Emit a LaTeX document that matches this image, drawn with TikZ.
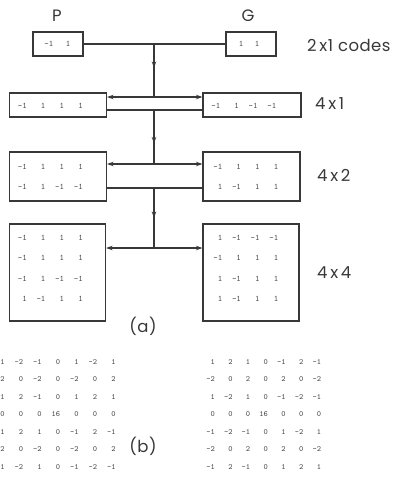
\documentclass[tikz,border=0pt]{standalone}
\usepackage{fontspec}
\setmainfont{Poppins}
\usetikzlibrary{arrows.meta,decorations.markings,calc}

\definecolor{ink}{HTML}{383838}
\definecolor{numink}{HTML}{484848}

\tikzset{
  codebox/.style={draw=ink, line width=1.1pt, inner sep=0pt},
  num/.style={anchor=east, inner sep=0pt, font=\ttfamily\fontsize{8.5}{8.5}\selectfont, text=numink},
  bnum/.style={anchor=east, inner sep=0pt, font=\ttfamily\fontsize{8}{8}\selectfont, text=numink},
  lbl/.style={font=\fontsize{16.5}{16.5}\selectfont\addfontfeatures{LetterSpace=3}, text=ink, inner sep=0pt},
  conn/.style={draw=ink, line width=1.1pt},
  dbl/.style={conn, {Stealth[length=6.5pt,width=4.5pt]}-{Stealth[length=6.5pt,width=4.5pt]}},
  midarrow/.style={conn, postaction={decorate}, decoration={markings,
      mark=at position #1 with {\arrow{Stealth[length=6.5pt,width=4.5pt]}}}},
}

% #1 box, #2 east offset of first column, #3 first row offset, #4 column step, #5 row step, #6 rows
\newcommand\codenums[6]{%
  \foreach \row [count=\r from 0] in {#6} {%
    \foreach \v [count=\c from 0] in \row {%
      \node[num] (#1-\r-\c) at ($(#1.north west)+(#2+\c*#4,#3+\r*#5)$) {\v};
    }%
  }%
}
% #1 name, #2 x of first column east, #3 y of first row, #4 col step, #5 row step, #6 rows
\newcommand\bmatrix[6]{%
  \foreach \row [count=\r from 0] in {#6} {%
    \foreach \v [count=\c from 0] in \row {%
      \node[bnum] (#1-\r-\c) at (#2+\c*#4,#3+\r*#5) {\v};
    }%
  }%
}

\begin{document}
\begin{tikzpicture}[x=1pt,y=-1pt]
\useasboundingbox (0,0) rectangle (399,493);

% labels
\node[lbl] (Plbl) at (57,16) {P};
\node[lbl] (Glbl) at (248,16) {G};
\node[lbl, anchor=west] (c21) at (307,45) {2\,x1 codes};
\node[lbl, anchor=west] (c41) at (315,104) {4\,x\,1};
\node[lbl, anchor=west] (c42) at (317,175) {4\,x\,2};
\node[lbl, anchor=west] (c44) at (317,273) {4\,x\,4};
\node[lbl] (la) at (143,326) {(a)};
\node[lbl] (lb) at (143,446) {(b)};

% boxes
\node[codebox, minimum width=50pt, minimum height=24pt] (P) at (58,44) {};
\node[codebox, minimum width=50pt, minimum height=24pt] (G) at (251,44) {};
\node[codebox, minimum width=97pt, minimum height=24pt] (L1) at (58,105) {};
\node[codebox, minimum width=98pt, minimum height=24pt] (R1) at (252,105) {};
\node[codebox, minimum width=97pt, minimum height=49pt] (L2) at (58,176.5) {};
\node[codebox, minimum width=97pt, minimum height=49pt] (R2) at (251.5,176.5) {};
\node[codebox, minimum width=96pt, minimum height=97pt] (L3) at (57.5,272.5) {};
\node[codebox, minimum width=96pt, minimum height=97pt] (R3) at (251,272.5) {};

% numbers in boxes
\codenums{P}{21}{12}{17}{0}{{-1,1}}
\codenums{G}{18}{12}{16}{0}{{1,1}}
\codenums{L1}{18}{13}{18.7}{0}{{-1,1,1,1}}
\codenums{R1}{18}{13}{18.7}{0}{{-1,1,-1,-1}}
\codenums{L2}{18}{15}{18.7}{20}{{-1,1,1,1},{-1,1,-1,-1}}
\codenums{R2}{20}{15}{18.7}{20}{{-1,1,1,1},{1,-1,1,1}}
\codenums{L3}{18}{14}{18.7}{20.6}{{-1,1,1,1},{-1,1,1,1},{-1,1,-1,-1},{1,-1,1,1}}
\codenums{R3}{20}{14}{18.7}{20.6}{{1,-1,-1,-1},{-1,1,1,1},{1,-1,1,1},{1,-1,1,1}}

% junctions
\coordinate (j0) at (154,44);
\coordinate (j1) at (154,97);
\coordinate (j2) at (154,110);
\coordinate (j3) at (154,164);
\coordinate (j4) at (154,188);
\coordinate (j5) at (154,248);

% connectors
\draw[conn] (P) -- (G);
\draw[midarrow=0.45] (j0) -- (j1);
\draw[dbl] (j1 -| L1.east) -- (j1 -| R1.west);
\draw[conn] (j2 -| L1.east) -- (j2 -| R1.west);
\draw[midarrow=0.62] (j2) -- (j3);
\draw[dbl] (j3 -| L2.east) -- (j3 -| R2.west);
\draw[conn] (j4 -| L2.east) -- (j4 -| R2.west);
\draw[midarrow=0.5] (j4) -- (j5);
\draw[dbl] (j5 -| L3.east) -- (j5 -| R3.west);

% (b) matrices
\bmatrix{BL}{4.8}{362}{18.5}{17.5}{{1,-2,-1,0,1,-2,1},{2,0,-2,0,-2,0,2},{1,2,-1,0,1,2,1},{0,0,0,16,0,0,0},{1,2,1,0,-1,2,-1},{2,0,-2,0,-2,0,2},{1,-2,1,0,-1,-2,-1}}
\bmatrix{BR}{215}{362}{17.7}{17.5}{{1,2,1,0,-1,2,-1},{-2,0,2,0,2,0,-2},{1,-2,1,0,-1,-2,-1},{0,0,0,16,0,0,0},{-1,-2,-1,0,1,-2,1},{-2,0,2,0,2,0,-2},{-1,2,-1,0,1,2,1}}
\end{tikzpicture}
\end{document}
